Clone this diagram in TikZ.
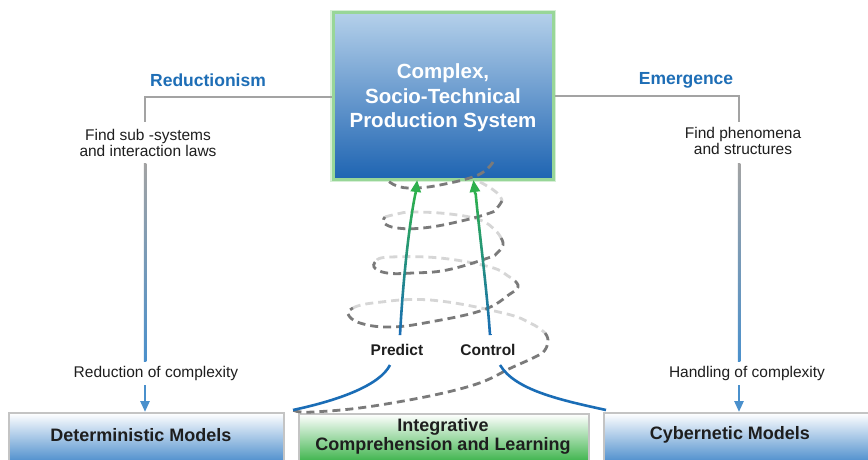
\documentclass[tikz,border=0pt]{standalone}
\usepackage{fontspec}
\setmainfont{Liberation Sans}
\usetikzlibrary{arrows.meta,calc}
\definecolor{boxtop}{HTML}{B4D0EA}
\definecolor{boxbot}{HTML}{1E64B2}
\definecolor{glow}{HTML}{98D698}
\definecolor{linegray}{HTML}{A3A3A3}
\definecolor{lineblue}{HTML}{4A90CC}
\definecolor{titleblue}{HTML}{1E6EB6}
\definecolor{curveblue}{HTML}{1A6DB6}
\definecolor{arrgreen}{HTML}{2DB04C}
\definecolor{spdark}{HTML}{7A7A7A}
\definecolor{splight}{HTML}{D6D6D6}
\definecolor{modblue}{HTML}{4A8CCC}
\definecolor{modgreen}{HTML}{34B043}
\definecolor{modedge}{HTML}{C4C4C4}
\definecolor{txt}{HTML}{1E1E1E}
\tikzset{
  mainbox/.style={rectangle, minimum width=220pt, minimum height=166pt, inner sep=0pt,
    top color=boxtop, bottom color=boxbot, draw=glow, line width=3pt,
    preaction={draw=glow!40, line width=6pt}},
  modbox/.style={rectangle, draw=modedge, line width=2pt, anchor=north west, minimum height=50pt, inner sep=0pt},
  bluebox/.style={modbox, shading=axis, top color=white, middle color=modblue!60, bottom color=modblue},
  greenbox/.style={modbox, shading=axis, top color=white, middle color=modgreen!80, bottom color=modgreen},
  modtext/.style={inner sep=0pt, align=center, text=txt, font=\bfseries\fontsize{18}{19}\selectfont},
  lbl/.style={inner sep=0pt, align=center, text=txt, font=\fontsize{15.5}{15.5}\selectfont},
  ttl/.style={inner sep=0pt, text=titleblue, font=\bfseries\fontsize{17.5}{19}\selectfont},
  pc/.style={inner sep=0pt, text=txt, font=\bfseries\fontsize{15.5}{17}\selectfont},
  grayline/.style={draw=linegray, line width=2.5pt},
  blueline/.style={draw=lineblue, line width=2.5pt, -{Triangle[length=11pt,width=9pt]}},
  spd/.style={draw=spdark, line width=2.8pt, dash pattern=on 8pt off 5pt},
  spl/.style={draw=splight, line width=2.8pt, dash pattern=on 8pt off 5pt},
  bcurve/.style={draw=curveblue, line width=2.6pt},
  garrow/.style={draw=arrgreen, line width=2.6pt, -{Triangle[length=12pt,width=10pt]}}
}
\begin{document}
\begin{tikzpicture}[x=1pt,y=-1pt]
\clip (0,0) rectangle (868,460);
\fill[white] (0,0) rectangle (868,460);

% bottom boxes
\node[bluebox, minimum width=275pt] (det) at (8,412) {};
\node[greenbox, minimum width=290pt] (integ) at (298,413) {};
\node[bluebox, minimum width=280pt] (cyb) at (603,412) {};
\node[modtext] (dett) at (141,435) {Deterministic Models};
\node[modtext] (integt) at (443,436.5) {Integrative\\Comprehension and Learning};
\node[modtext] (cybt) at (730,435) {Cybernetic Models};

% main box
\node[mainbox] (sys) at (443,96) {};
\node[inner sep=0pt, text=white, align=center, font=\bfseries\fontsize{20.5}{24.5}\selectfont] (syst) at (443,98) {Complex,\\Socio-Technical\\Production System};

% titles and labels
\node[ttl] (red) at (208,80) {Reductionism};
\node[ttl] (emg) at (686,80) {Emergence};
\node[lbl] (find1) at (148,143) {Find sub -systems\\and interaction laws};
\node[lbl] (find2) at (743,141) {Find phenomena\\and structures};
\node[lbl] (redc) at (156,373) {Reduction of complexity};
\node[lbl] (hand) at (747,373) {Handling of complexity};
\node[pc] (pred) at (397,350) {Predict};
\node[pc] (ctrl) at (488,350) {Control};

% left connector
\coordinate (lc) at (145,97);
\coordinate (lc1) at (145,122);
\coordinate (lc2) at (145,163);
\coordinate (lc3) at (145,361);
\coordinate (lc4) at (145,385);
\draw[grayline] (sys.west |- lc) -- (lc) -- (lc1);
\shade[top color=linegray, bottom color=lineblue] ($(lc2)+(-1.25,0)$) rectangle ($(lc3)+(1.25,0)$);
\draw[blueline] (lc4) -- (lc4 |- det.north);

% right connector
\coordinate (rc) at (739,96);
\coordinate (rc1) at (739,122);
\coordinate (rc2) at (739,163);
\coordinate (rc3) at (739,361);
\coordinate (rc4) at (739,385);
\draw[grayline] (sys.east |- rc) -- (rc) -- (rc1);
\shade[top color=linegray, bottom color=lineblue] ($(rc2)+(-1.25,0)$) rectangle ($(rc3)+(1.25,0)$);
\draw[blueline] (rc4) -- (rc4 |- cyb.north);

% spiral: back arcs (light)
\draw[spl] plot[smooth, tension=0.7] coordinates {(480,182) (492,189) (500,196) (502,201)};
\draw[spl] plot[smooth, tension=0.7] coordinates {(385,217) (397,214) (413,212) (450,214) (480,220) (495,230) (501,238)};
\draw[spl] plot[smooth, tension=0.7] coordinates {(377,260) (390,257) (440,258) (490,267) (508,276) (515,281)};
\draw[spl] plot[smooth, tension=0.7] coordinates {(353,308) (373,303) (430,300) (503,313) (532,324) (545,333)};
% spiral: front arcs (dark)
\draw[spd] plot[smooth, tension=0.7] coordinates {(493,162) (478,175) (440,185) (413,188) (397,186) (387,180)};
\draw[spd] plot[smooth, tension=0.7] coordinates {(502,201) (497,208) (490,213) (457,222) (423,228) (397,228) (384,223) (385,217)};
\draw[spd] plot[smooth, tension=0.7] coordinates {(501,238) (503,245) (497,253) (488,258) (447,270) (413,273) (387,273) (374,267) (377,260)};
\draw[spd] plot[smooth, tension=0.7] coordinates {(515,281) (518,287) (510,294) (483,310) (430,322) (390,327) (360,323) (348,314) (353,308)};
\draw[spd] plot[smooth, tension=0.7] coordinates {(545,333) (548,340) (545,350) (537,356) (513,367) (467,387) (380,405) (313,412) (293,410)};

% blue curves from integrative box to labels
\coordinate (bl0) at (293,410);
\coordinate (bl1) at (390,365);
\coordinate (br0) at (500,365);
\coordinate (br1) at (606,410);
\draw[bcurve] (bl0) .. controls (340,400) and (380,385) .. (bl1);
\draw[bcurve] (br0) .. controls (515,390) and (560,400) .. (br1);

% green arrows (blue to green)
\shade[top color=arrgreen, middle color=arrgreen!85!curveblue, bottom color=curveblue]
  (398.7,335) .. controls (401.7,280) and (407.7,225) .. (414.2,193)
  -- (416.8,193) .. controls (410.3,225) and (404.3,280) .. (401.3,335) -- cycle;
\draw[garrow] (415.5,194) -- (417.2,180);
\shade[top color=arrgreen, middle color=arrgreen!85!curveblue, bottom color=curveblue]
  (488.7,335) .. controls (485.7,290) and (477.7,230) .. (474.3,193)
  -- (476.9,193) .. controls (480.3,230) and (488.3,290) .. (491.3,335) -- cycle;
\draw[garrow] (475.2,194) -- (473.4,180);
\end{tikzpicture}
\end{document}
